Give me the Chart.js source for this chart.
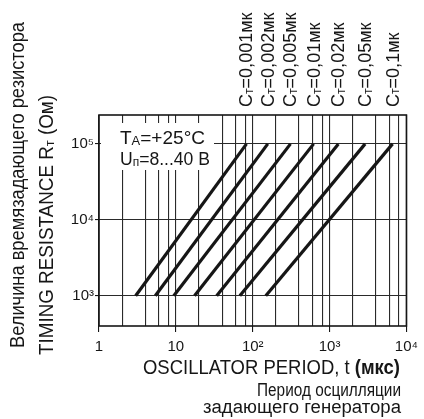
<!DOCTYPE html>
<html>
<head>
<meta charset="utf-8">
<script src="https://cdn.jsdelivr.net/npm/chart.js@4.4.1/dist/chart.umd.min.js"></script>
<style>
  html, body { margin: 0; padding: 0; background: #fff; }
  canvas { display: block; }
</style>
</head>
<body>
<canvas id="canvas" width="424" height="419"></canvas>
<script>
// timing capacitor values (мкФ) - one line each
const capacitors = ['0,001', '0,002', '0,005', '0,01', '0,02', '0,05', '0,1'];
// oscillator period t (мкс) where each line crosses Rt = 10^3 and Rt = 10^5
const periodAtLowR = [3, 5.4, 9.4, 17.5, 34, 68, 148];
const periodAtHighR = [83, 157, 310, 620, 1300, 2900, 6600];
const resistanceEnds = [1000, 100000];

// axis ticks
const xGridValues = [1, 2, 4, 6, 8, 10, 20, 40, 60, 80, 100, 200, 400, 600, 800,
    1000, 2000, 4000, 6000, 8000, 10000];
const xLabelValues = [1, 10, 100, 1000, 10000];
const xLabelTexts = ['1', '10', '10²', '10³', '10⁴'];
const yTickValues = [1000, 10000, 100000];
const yTickLabels = ['10³', '10⁴', '10⁵'];

const FAMILY = '"Liberation Sans", Arial, sans-serif';
const INK = '#161616';

// draws text made of pieces (some small, subscript-like), squeezed to a width
function drawRich(ctx, parts, x, y, size, align, width) {
    const fontOf = p => (p[2] || '') + ' ' + (p[1] ? size * 0.68 : size) + 'px ' + FAMILY;
    const widths = parts.map(p => { ctx.font = fontOf(p); return ctx.measureText(p[0]).width; });
    const total = widths.reduce((a, b) => a + b, 0);
    const sx = width ? width / total : 1;
    ctx.save();
    ctx.translate(align === 'right' ? x - total * sx : x, y);
    ctx.scale(sx, 1);
    let cx = 0;
    parts.forEach((p, i) => {
        ctx.font = fontOf(p);
        ctx.fillText(p[0], cx, p[1] ? size * 0.05 : 0);
        cx += widths[i];
    });
    ctx.restore();
}

function drawRotated(ctx, parts, x, y, size, width) {
    ctx.save();
    ctx.translate(x, y);
    ctx.rotate(-Math.PI / 2);
    drawRich(ctx, parts, 0, 0, size, 'left', width);
    ctx.restore();
}

const decor = {
    id: 'decor',
    beforeDatasetsDraw(chart) {
        const ctx = chart.ctx;
        ctx.save();
        ctx.fillStyle = '#fff';
        ctx.fillRect(101, 123, 113, 47);
        ctx.fillStyle = INK;
        ctx.textBaseline = 'alphabetic';
        drawRich(ctx, [['T'], ['A', true], ['=+25°C']], 120, 144, 18, 'left', 85);
        drawRich(ctx, [['U'], ['п', true], ['=8...40 B']], 120, 165, 18, 'left', 90);
        ctx.restore();
    },
    afterDatasetsDraw(chart) {
        const ctx = chart.ctx;
        const a = chart.chartArea;
        ctx.save();
        ctx.strokeStyle = INK;
        ctx.lineWidth = 1.6;
        ctx.strokeRect(a.left, a.top, a.right - a.left, a.bottom - a.top);
        ctx.restore();
    },
    afterDraw(chart) {
        const ctx = chart.ctx;
        const xs = chart.scales.x;
        ctx.save();
        ctx.fillStyle = INK;
        ctx.textBaseline = 'alphabetic';
        // capacitor labels above line ends
        capacitors.forEach((c, i) => {
            const px = xs.getPixelForValue(periodAtHighR[i]);
            drawRotated(ctx, [['C'], ['т', true], ['=' + c + 'мк']], px + 6, 107, 18);
        });
        // y axis titles
        drawRotated(ctx, [['Величина времязадающего резистора']], 24, 348, 20, 326);
        drawRotated(ctx, [['TIMING RESISTANCE R'], ['т', true], [' (Ом)']], 53, 355, 20, 260);
        // x axis titles
        drawRich(ctx, [['OSCILLATOR PERIOD, t '], ['(мкс)', false, 'bold']], 143, 374, 21, 'left', 257);
        drawRich(ctx, [['Период осцилляции']], 401, 396, 18, 'right', 144);
        drawRich(ctx, [['задающего генератора']], 401, 413, 18, 'right', 198);
        ctx.restore();
    }
};

const datasets = capacitors.map((c, i) => ({
    label: 'Cт=' + c + 'мк',
    data: [
        { x: periodAtLowR[i], y: resistanceEnds[0] },
        { x: periodAtHighR[i], y: resistanceEnds[1] }
    ],
    borderColor: INK,
    borderWidth: 3.2,
    pointRadius: 0,
    showLine: true,
    fill: false
}));

const config = {
    type: 'scatter',
    data: { datasets: datasets },
    options: {
        responsive: false,
        animation: false,
        layout: { padding: { left: 0, top: 115, right: 17, bottom: 0 } },
        plugins: { legend: { display: false }, tooltip: { enabled: false } },
        scales: {
            x: {
                type: 'logarithmic',
                min: 1,
                max: 10000,
                afterBuildTicks: s => { s.ticks = xGridValues.map(v => ({ value: v })); },
                afterFit: s => { s.height = 93; },
                border: { display: false },
                grid: {
                    color: '#2a2a2a',
                    lineWidth: 1.1,
                    tickLength: 6,
                    tickColor: ctx => xLabelValues.includes(ctx.tick.value) ? INK : 'rgba(0,0,0,0)'
                },
                ticks: {
                    autoSkip: false,
                    maxRotation: 0,
                    padding: 6,
                    color: INK,
                    font: { family: FAMILY, size: 15 },
                    callback: v => {
                        const k = xLabelValues.indexOf(v);
                        return k >= 0 ? xLabelTexts[k] : '';
                    }
                }
            },
            y: {
                type: 'logarithmic',
                min: 400,
                max: 240000,
                afterBuildTicks: s => { s.ticks = yTickValues.map(v => ({ value: v })); },
                afterFit: s => { s.width = 99; },
                border: { display: false },
                grid: { color: '#2a2a2a', lineWidth: 1.1, tickLength: 4, tickColor: INK },
                ticks: {
                    padding: 1,
                    color: INK,
                    font: { family: FAMILY, size: 15 },
                    callback: v => {
                        const k = yTickValues.indexOf(v);
                        return k >= 0 ? yTickLabels[k] : '';
                    }
                }
            }
        }
    },
    plugins: [decor]
};

const canvas = document.getElementById('canvas');
const chart = new Chart(canvas, config);
</script>
</body>
</html>
